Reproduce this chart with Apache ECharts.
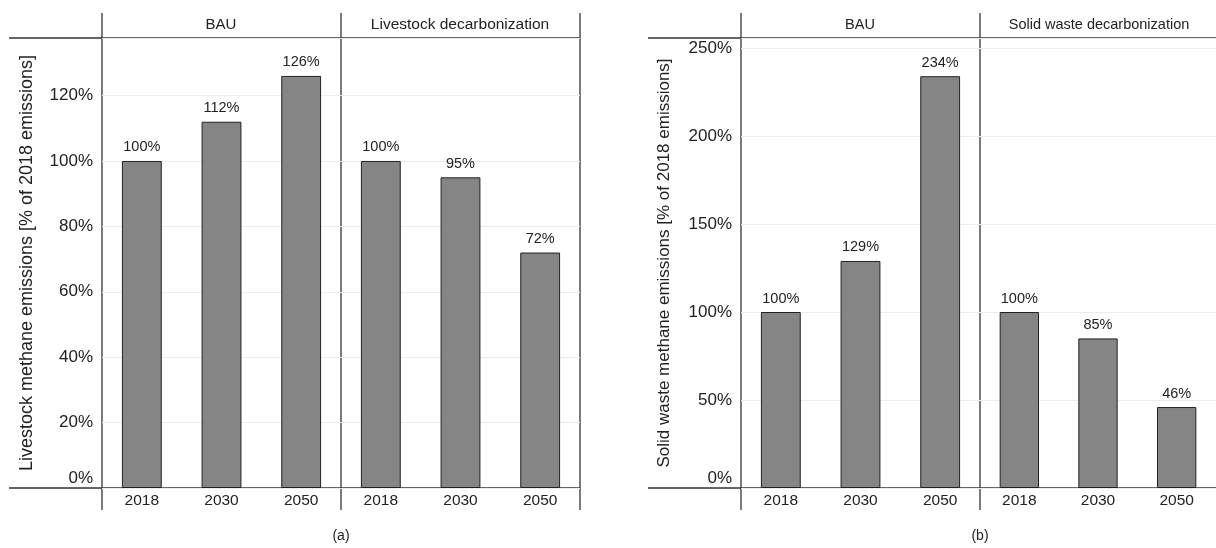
<!DOCTYPE html>
<html>
<head>
<meta charset="utf-8">
<script src="https://cdn.jsdelivr.net/npm/echarts@6/dist/echarts.min.js"></script>
<style>
  html, body { margin: 0; padding: 0; background: #fff; }
  #chart { width: 1216px; height: 548px; }
</style>
</head>
<body>
<div id="chart"></div>
<script>
// Scenario years on the category axis
const years = ['2018', '2030', '2050'];

// Livestock methane emissions, % of 2018
const livestockBAU = [100, 112, 126];
const livestockDecarb = [100, 95, 72];

// Solid waste methane emissions, % of 2018
const wasteBAU = [100, 129, 234];
const wasteDecarb = [100, 85, 46];

// Facet strip labels
const stripA = ['BAU', 'Livestock decarbonization'];
const stripB = ['BAU', 'Solid waste decarbonization'];

// Axis titles and panel captions
const yTitleA = 'Livestock methane emissions [% of 2018 emissions]';
const yTitleB = 'Solid waste methane emissions [% of 2018 emissions]';
const captions = ['(a)', '(b)'];

// Value axis settings
const yStepA = 20, yMaxA = 137.6;
const yStepB = 50, yMaxB = 255.7;

const FONT = '"Liberation Sans", Arial, sans-serif';
const INK = '#333333';
const TOP = 38, BOTTOM = 488, FACET_W = 239;

const facets = [
  { left: 102, data: livestockBAU, step: yStepA, max: yMaxA, title: yTitleA, titleSize: 18, gap: 66, showY: true },
  { left: 341, data: livestockDecarb, step: yStepA, max: yMaxA, showY: false },
  { left: 741, data: wasteBAU, step: yStepB, max: yMaxB, title: yTitleB, titleSize: 17, gap: 68, showY: true },
  { left: 980, data: wasteDecarb, step: yStepB, max: yMaxB, showY: false }
];

const grid = [], xAxis = [], yAxis = [], series = [];
facets.forEach((f, i) => {
  grid.push({ left: f.left, top: TOP, width: FACET_W, height: BOTTOM - TOP, containLabel: false });
  xAxis.push({
    type: 'category', gridIndex: i, data: years,
    axisLine: { show: false }, axisTick: { show: false },
    axisLabel: { color: '#222', fontFamily: FONT, fontSize: 15.5, margin: 5 },
    splitLine: { show: false }
  });
  yAxis.push({
    type: 'value', gridIndex: i, min: 0, max: f.max, interval: f.step,
    name: f.showY ? f.title : '', nameLocation: 'middle', nameGap: f.gap || 0,
    nameTextStyle: { color: '#222', fontFamily: FONT, fontSize: f.titleSize || 16 },
    axisLine: { show: false }, axisTick: { show: false },
    axisLabel: {
      show: f.showY, showMaxLabel: false, margin: 9,
      color: '#222', fontFamily: FONT, fontSize: 17,
      formatter: v => v === 0 ? '{z|0%}' : v + '%',
      rich: { z: { fontFamily: FONT, fontSize: 17, color: '#222', padding: [0, 0, 20, 0] } }
    },
    splitLine: { show: true, lineStyle: { color: '#ececec', width: 1 } }
  });
  series.push({
    type: 'bar', xAxisIndex: i, yAxisIndex: i, data: f.data,
    barWidth: '50%',
    itemStyle: { color: '#858585', borderColor: '#222', borderWidth: 1 },
    label: {
      show: true, position: 'top', distance: 6,
      formatter: p => p.value + '%',
      color: '#222', fontFamily: FONT, fontSize: 14.5
    }
  });
});

// Panel frame: strip line, baseline and facet separators
function hLine(x1, x2, y) {
  return { type: 'line', shape: { x1, y1: y, x2, y2: y }, style: { stroke: INK, lineWidth: 1.3 }, silent: true };
}
function vLine(x) {
  return { type: 'line', shape: { x1: x, y1: 13, x2: x, y2: 510 }, style: { stroke: INK, lineWidth: 1.3 }, silent: true };
}
function text(x, y, s, size) {
  return { type: 'text', x, y, style: { text: s, fill: '#222', font: size + 'px ' + FONT, align: 'center', verticalAlign: 'middle' }, silent: true };
}

const graphic = [
  hLine(9, 580, TOP), hLine(9, 580, BOTTOM),
  vLine(102), vLine(341), vLine(580),
  hLine(648, 1216, TOP), hLine(648, 1216, BOTTOM),
  vLine(741), vLine(980),
  text(221, 25, stripA[0], 15), text(460, 25, stripA[1], 15.5),
  text(860, 25, stripB[0], 14.5), text(1099, 25, stripB[1], 14.5),
  text(341, 536, captions[0], 14), text(980, 536, captions[1], 14)
];

const chart = echarts.init(document.getElementById('chart'), null, { renderer: 'canvas' });
chart.setOption({
  animation: false,
  backgroundColor: '#fff',
  grid, xAxis, yAxis, series, graphic
});
</script>
</body>
</html>
